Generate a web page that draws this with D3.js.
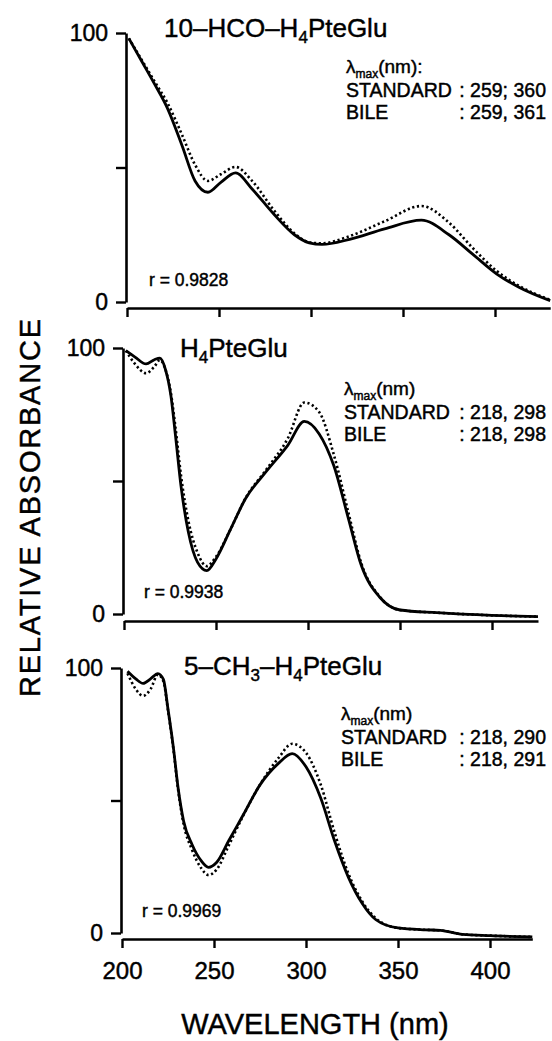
<!DOCTYPE html>
<html>
<head>
<meta charset="utf-8">
<script src="https://cdn.jsdelivr.net/npm/d3@7"></script>
<style>
  html, body { margin: 0; padding: 0; background: #fff; }
  svg { display: block; font-family: "Liberation Sans", Arial, Helvetica, sans-serif; }
  text { fill: #000; stroke: #000; stroke-width: 0.45px; }
</style>
</head>
<body>
<svg id="chart" width="552" height="1041"></svg>
<script>
// 10-HCO-H4PteGlu
const nm1 = [201, 208, 215, 222, 230, 237, 244, 251, 259, 268, 280, 291, 299, 306, 321, 340, 360, 375, 388, 401, 413, 430];
const standard1 = [98, 89.5, 81, 72, 58, 45, 40.8, 44.5, 48, 42, 32.5, 25, 22, 21.4, 23.3, 27.2, 30.4, 25, 17.7, 10.4, 5.5, 0.5];
const bile1 = [98, 90, 82, 74, 62, 51, 45, 47.5, 50.2, 45, 34, 25.5, 22.2, 21.8, 24.5, 30, 35.7, 29.5, 20, 11.5, 6, 0.8];

// H4PteGlu
const nm2 = [201, 206, 212, 216.5, 219.5, 222.5, 225.5, 228, 231, 235, 240, 245, 250, 258, 266, 277, 289, 298, 306, 314, 322, 329, 339, 350, 370, 400, 425];
const standard2 = [99, 96.6, 94, 95.6, 96.2, 92, 82, 67, 48, 30.7, 19.4, 16.3, 20.7, 32, 43.3, 53.3, 63.4, 72.4, 67.8, 55.8, 35.8, 18.2, 6.3, 1.5, 0.5, -0.5, -1];
const bile2 = [99, 94, 90.5, 93, 95.5, 92, 83, 70, 52, 35, 23, 18, 21.5, 32, 43.5, 54, 66, 79.5, 76, 60, 38, 19, 6.5, 1.5, 0.5, -0.5, -1];

// 5-CH3-H4PteGlu
const nm3 = [203, 207.5, 211.5, 215.5, 219.5, 222.5, 225, 228, 230.5, 233.5, 238, 243, 247, 251.5, 258, 266, 275, 285, 292.5, 300, 308, 315.5, 323, 330.5, 338, 350, 365, 373, 385, 400, 423];
const standard3 = [98.8, 95.9, 94.2, 95.9, 97.9, 95.7, 84.5, 69.6, 54.7, 42.2, 33.5, 27.3, 24.8, 26.7, 34.8, 44.7, 55.9, 64, 67.7, 62.7, 50.9, 34.8, 21.1, 11.2, 5, 1.9, 1.2, 1, -0.5, -1, -1.5];
const bile3 = [98, 92, 89.5, 92, 97.5, 95, 84, 69, 54, 41, 31.5, 24.5, 21.9, 24, 33, 44.5, 56, 66, 71.4, 68, 56, 38, 22.5, 12, 5.5, 1.9, 1.2, 1, -0.5, -1, -1.5];

const xTicks = [200, 250, 300, 350, 400];
const yTicks = [0, 50, 100];
const titles = [["10–HCO–H", "4", "PteGlu"], ["H", "4", "PteGlu"], ["5–CH", "3", "–H", "4", "PteGlu"]];
const lambdaStd = ["259; 360", "218, 298", "218, 290"];
const lambdaBile = ["259, 361", "218, 298", "218, 291"];
const rValues = ["0.9828", "0.9938", "0.9969"];

const svg = d3.select("#chart");
const pxPerNm = 1.84;

const panels = [
  { nm: nm1, std: standard1, bile: bile1, x0: 127, top: 33, zero: 302, axisY: 308, nmMax: 430,
    titleX: 164, titleY: 37, lamX: 346, lamY: 73, rX: 149, rY: 286 },
  { nm: nm2, std: standard2, bile: bile2, x0: 124, top: 348, zero: 614, axisY: 621, nmMax: 425,
    titleX: 180, titleY: 357, lamX: 344, lamY: 395, rX: 144, rY: 598 },
  { nm: nm3, std: standard3, bile: bile3, x0: 122, top: 668, zero: 933, axisY: 939, nmMax: 423,
    titleX: 184, titleY: 675, lamX: 341, lamY: 720, rX: 142, rY: 917 },
];

panels.forEach((p, i) => {
  const x = d3.scaleLinear().domain([200, p.nmMax]).range([p.x0, p.x0 + (p.nmMax - 200) * pxPerNm]);
  const y = d3.scaleLinear().domain([0, 100]).range([p.zero, p.top]);
  const g = svg.append("g");

  const yAxis = g.append("g")
    .attr("transform", `translate(${p.x0 - 1},0)`)
    .call(d3.axisLeft(y).tickValues(yTicks).tickSize(10).tickSizeOuter(0).tickPadding(8)
      .tickFormat(d => (d === 50 ? "" : d)));

  const xAxis = g.append("g")
    .attr("transform", `translate(0,${p.axisY})`)
    .call(d3.axisBottom(x).tickValues(xTicks).tickSize(9).tickSizeOuter(0).tickPadding(14)
      .tickFormat(d => (i === 2 ? d : "")));

  [yAxis, xAxis].forEach(a => {
    a.select(".domain").attr("stroke", "#000").attr("stroke-width", 2.6);
    a.selectAll(".tick line").attr("stroke", "#000").attr("stroke-width", 2.4);
    a.selectAll(".tick text").attr("font-family", null);
  });
  yAxis.selectAll(".tick text").attr("font-size", 23);
  xAxis.selectAll(".tick text").attr("font-size", 24);

  const line = d3.line().x(d => x(d[0])).y(d => y(d[1])).curve(d3.curveMonotoneX);
  const stdPts = p.nm.map((w, k) => [w, p.std[k]]);
  const bilePts = p.nm.map((w, k) => [w, p.bile[k]]);

  g.append("path").attr("d", line(bilePts))
    .attr("fill", "none").attr("stroke", "#000").attr("stroke-width", 2.6)
    .attr("stroke-dasharray", "2.2,2.6");
  g.append("path").attr("d", line(stdPts))
    .attr("fill", "none").attr("stroke", "#000").attr("stroke-width", 2.8)
    .attr("stroke-linejoin", "round");

  // title with subscripts
  const t = g.append("text").attr("x", p.titleX).attr("y", p.titleY).attr("font-size", 26);
  titles[i].forEach((part, k) => {
    const isSub = /^\d$/.test(part) && k > 0;
    t.append("tspan").text(part)
      .attr("font-size", isSub ? 17 : null)
      .attr("dy", isSub ? 6 : (k > 0 && /^\d$/.test(titles[i][k - 1]) ? -6 : null));
  });

  // lambda max block
  const lam = g.append("text").attr("x", p.lamX).attr("y", p.lamY).attr("font-size", 19);
  lam.append("tspan").text("λ");
  lam.append("tspan").text("max").attr("font-size", 12).attr("dy", 5);
  lam.append("tspan").text(i === 0 ? "(nm):" : "(nm)").attr("dy", -5);

  const valEnd = 546;
  g.append("text").attr("x", p.lamX).attr("y", p.lamY + 24).attr("font-size", 19.5).text("STANDARD");
  g.append("text").attr("x", valEnd).attr("y", p.lamY + 24).attr("font-size", 19.5)
    .attr("text-anchor", "end").text(": " + lambdaStd[i]);
  g.append("text").attr("x", p.lamX).attr("y", p.lamY + 46).attr("font-size", 19.5).text("BILE");
  g.append("text").attr("x", valEnd).attr("y", p.lamY + 46).attr("font-size", 19.5)
    .attr("text-anchor", "end").text(": " + lambdaBile[i]);

  g.append("text").attr("x", p.rX).attr("y", p.rY).attr("font-size", 17.5).text("r = " + rValues[i]);
});

svg.append("text")
  .attr("transform", "translate(40,508) rotate(-90)")
  .attr("text-anchor", "middle").attr("font-size", 29)
  .attr("textLength", 378).attr("lengthAdjust", "spacing")
  .text("RELATIVE ABSORBANCE");

svg.append("text")
  .attr("x", 315).attr("y", 1034)
  .attr("text-anchor", "middle").attr("font-size", 29)
  .text("WAVELENGTH (nm)");
</script>
</body>
</html>
